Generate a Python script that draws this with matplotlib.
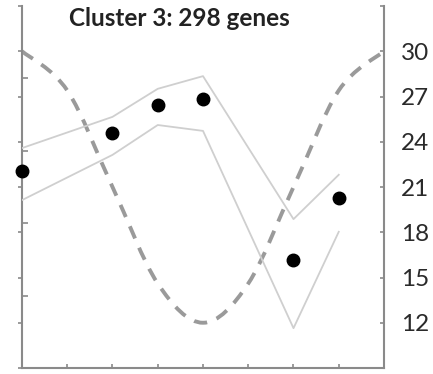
import numpy as np
import matplotlib
matplotlib.use("Agg")
import matplotlib.pyplot as plt
from matplotlib.path import Path
from matplotlib.patches import PathPatch

# ---- data ----
x_all = [0, 1, 2, 3, 4, 5, 6, 7, 8]
temp = [30, 27.4, 21, 14.6, 12, 14.6, 21, 27.4, 30]          # right axis (dashed)
x_pts = [0, 2, 3, 4, 6, 7]
expr_mean = [4.35, 5.19, 5.81, 5.94, 2.39, 3.76]               # left axis (dots)
expr_upper = [4.86, 5.55, 6.17, 6.45, 3.29, 4.27]
expr_lower = [3.71, 4.71, 5.37, 5.24, 0.88, 3.01]
right_ticks = [9, 12, 15, 18, 21, 24, 27, 30, 33]
right_labels = ["", "12", "15", "18", "21", "24", "27", "30", ""]
title = "Cluster 3: 298 genes"

plt.rcParams['font.family'] = ['Lato', 'DejaVu Sans']

fig = plt.figure(figsize=(4.33, 3.74), dpi=100)
ax = fig.add_axes([22/433, 6/374, (384-22)/433, (368-6)/374])
ax2 = ax.twinx()

spine_c = "#8a8a8a"
ax.set_xlim(0, 8)
ax.set_ylim(0, 8)
ax2.set_ylim(9, 33)

# smooth dashed curve (Catmull-Rom -> cubic Bezier)
xs = np.array(x_all, float); ys = np.array(temp, float)
verts = [(xs[0], ys[0])]; codes = [Path.MOVETO]
for i in range(len(xs) - 1):
    p0 = (xs[max(i-1, 0)], ys[max(i-1, 0)])
    p1 = (xs[i], ys[i]); p2 = (xs[i+1], ys[i+1])
    p3 = (xs[min(i+2, len(xs)-1)], ys[min(i+2, len(xs)-1)])
    c1 = (p1[0] + (p2[0]-p0[0])/6, p1[1] + (p2[1]-p0[1])/6)
    c2 = (p2[0] - (p3[0]-p1[0])/6, p2[1] - (p3[1]-p1[1])/6)
    verts += [c1, c2, p2]; codes += [Path.CURVE4]*3
patch = PathPatch(Path(verts, codes), fill=False, edgecolor="#9a9a9a",
                  lw=2.8, linestyle=(0, (3.4, 2.6)), capstyle='butt', zorder=2)
ax2.add_patch(patch)

ax.plot(x_pts, expr_upper, color="#cfcfcf", lw=1.3, zorder=3)
ax.plot(x_pts, expr_lower, color="#cfcfcf", lw=1.3, zorder=3)
ax.plot(x_pts, expr_mean, 'o', color="black", ms=9, zorder=4, clip_on=False)
ax.set_zorder(ax2.get_zorder() + 1)
ax.patch.set_visible(False)

for a in (ax, ax2):
    for s in a.spines.values():
        s.set_color(spine_c); s.set_linewidth(1.5)
ax.spines['top'].set_visible(False); ax.spines['right'].set_visible(False)
ax2.spines['top'].set_visible(False); ax2.spines['left'].set_visible(False)
ax2.spines['bottom'].set_visible(False)

ax.set_xticks(x_all)
ax.set_xticklabels([])
ax.tick_params(axis='x', direction='in', length=3, color=spine_c, width=1.2)
ax.set_yticks(np.arange(0, 9, 1))
ax.set_yticklabels([])
ax.set_yticks(np.linspace(0, 8, 6), minor=True)
ax.tick_params(axis='y', which='major', direction='out', length=3, color=spine_c, width=1.2)
ax.tick_params(axis='y', which='minor', direction='in', length=4, color=spine_c, width=1.2)

ax2.set_yticks(right_ticks)
ax2.set_yticklabels(right_labels)
ax2.tick_params(axis='y', direction='in', length=3, color=spine_c, width=1.2,
                pad=12, labelsize=17.5, labelcolor="#2a2a2a")

fig.text(179/433, 1 - 18/374, title, ha='center', va='center',
         fontsize=17.5, fontweight='bold', color="#222222")

fig.savefig("out.png", dpi=100)
